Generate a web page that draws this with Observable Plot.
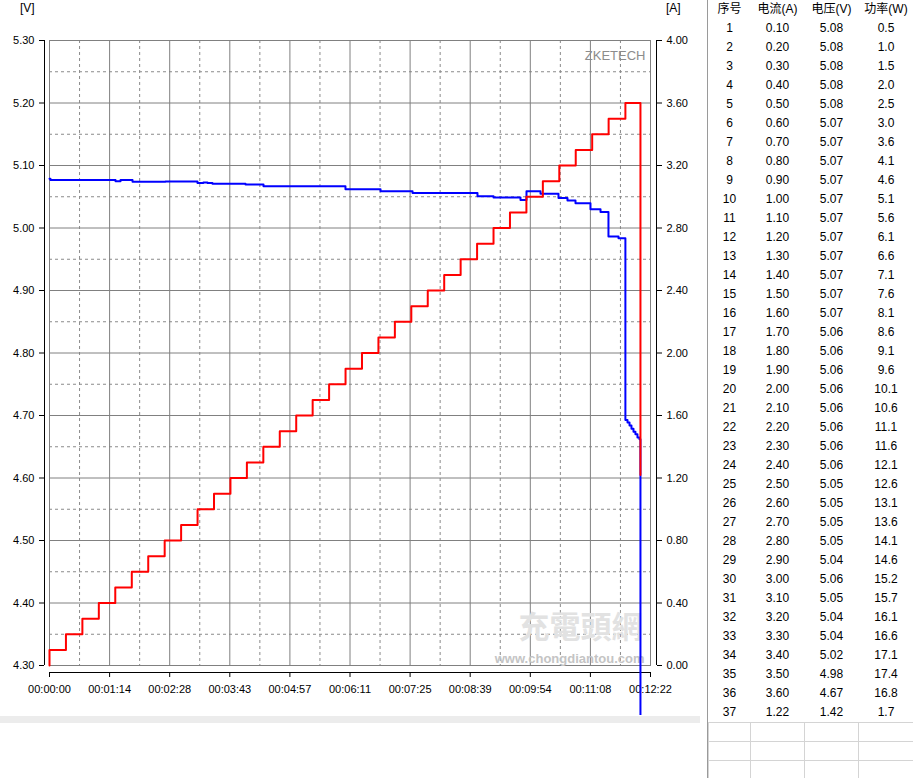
<!DOCTYPE html>
<html><head><meta charset="utf-8">
<script src="https://cdn.jsdelivr.net/npm/d3@7"></script>
<script src="https://cdn.jsdelivr.net/npm/@observablehq/plot@0.6"></script>
<style>
body{margin:0;background:#fff;font-family:"Liberation Sans",Arial,"Noto Sans CJK SC",sans-serif;}
#wrap{position:relative;width:913px;height:778px;overflow:hidden;background:#fff;}
#chart{position:absolute;left:0;top:0;}
.unit{position:absolute;font-size:12px;color:#000;line-height:14px;}
#band{position:absolute;left:0;top:716px;width:700px;height:7px;background:#ececec;}
#sep{position:absolute;left:707px;top:0;width:1px;height:778px;background:#9a9a9a;}
#tbl{position:absolute;left:708px;top:0;border-collapse:collapse;table-layout:fixed;width:205px;font-size:12px;font-family:"Liberation Sans",Arial,"Noto Sans CJK SC",sans-serif;}
#tbl td{height:19px;padding:0;text-align:center;line-height:19px;white-space:nowrap;color:#000;}
#tbl tr.empty td{border:1px solid #d4d4d4;height:18px;}
</style></head><body>
<div id="wrap">
  <div id="chart"></div>
  <div class="unit" style="left:20px;top:1px">[V]</div>
  <div class="unit" style="left:666px;top:1px">[A]</div>
  <div id="band"></div>
  <div id="sep"></div>
  <table id="tbl"></table>
</div>
<script>
// ---- table data ----
const headers = ["序号", "电流(A)", "电压(V)", "功率(W)"];
const rowIndex = [1,2,3,4,5,6,7,8,9,10,11,12,13,14,15,16,17,18,19,20,21,22,23,24,25,26,27,28,29,30,31,32,33,34,35,36,37];
const rowCurrent = ["0.10","0.20","0.30","0.40","0.50","0.60","0.70","0.80","0.90","1.00","1.10","1.20","1.30","1.40","1.50","1.60","1.70","1.80","1.90","2.00","2.10","2.20","2.30","2.40","2.50","2.60","2.70","2.80","2.90","3.00","3.10","3.20","3.30","3.40","3.50","3.60","1.22"];
const rowVoltage = ["5.08","5.08","5.08","5.08","5.08","5.07","5.07","5.07","5.07","5.07","5.07","5.07","5.07","5.07","5.07","5.07","5.06","5.06","5.06","5.06","5.06","5.06","5.06","5.06","5.05","5.05","5.05","5.05","5.04","5.06","5.05","5.04","5.04","5.02","4.98","4.67","1.42"];
const rowPower = ["0.5","1.0","1.5","2.0","2.5","3.0","3.6","4.1","4.6","5.1","5.6","6.1","6.6","7.1","7.6","8.1","8.6","9.1","9.6","10.1","10.6","11.1","11.6","12.1","12.6","13.1","13.6","14.1","14.6","15.2","15.7","16.1","16.6","17.1","17.4","16.8","1.7"];

// ---- current trace (A): step start times (s) and levels ----
const currentTimes = [0, 0, 20.3, 40.6, 60.9, 81.2, 101.6, 121.9, 142.2, 162.5, 182.8, 203.1, 223.4, 243.7, 264.0, 284.3, 304.6, 324.9, 345.2, 365.5, 385.8, 406.1, 426.4, 446.7, 467.0, 487.3, 507.6, 527.9, 548.2, 568.5, 588.8, 609.1, 629.4, 649.7, 670.0, 690.3, 711.0, 729.6];
const currentValues = [0.00, 0.10, 0.20, 0.30, 0.40, 0.50, 0.60, 0.70, 0.80, 0.90, 1.00, 1.10, 1.20, 1.30, 1.40, 1.50, 1.60, 1.70, 1.80, 1.90, 2.00, 2.10, 2.20, 2.30, 2.40, 2.50, 2.60, 2.70, 2.80, 2.90, 3.00, 3.10, 3.20, 3.30, 3.40, 3.50, 3.60, 1.22];

// ---- voltage trace (V) ----
const voltageTimes = [0, 1.2, 81.5, 87.7, 102.5, 143.2, 182.7, 190.0, 195.0, 201.2, 242.0, 264.2, 365.4, 408.7, 448.2, 528.4, 548.2, 581.5, 588.9, 606.2, 628.4, 639.5, 649.4, 667.9, 680.3, 690.1, 702.5, 711.0, 713.6, 716.1, 718.5, 721.0, 723.4, 725.9, 728.4, 729.6];
const voltageValues = [5.079, 5.077, 5.075, 5.077, 5.074, 5.0745, 5.072, 5.073, 5.072, 5.071, 5.0696, 5.067, 5.062, 5.059, 5.056, 5.051, 5.049, 5.045, 5.059, 5.055, 5.048, 5.044, 5.0395, 5.030, 5.0255, 4.9865, 4.9836, 4.693, 4.689, 4.684, 4.679, 4.674, 4.670, 4.665, 4.662, 1.42];

// ---- axes ----
const xTicks = [0, 74.2, 148.4, 222.6, 296.8, 371.0, 445.2, 519.4, 593.6, 667.8, 742];
const xTickLabels = ["00:00:00","00:01:14","00:02:28","00:03:43","00:04:57","00:06:11","00:07:25","00:08:39","00:09:54","00:11:08","00:12:22"];
const xMinor = [37.1, 111.3, 185.5, 259.7, 333.9, 408.1, 482.3, 556.5, 630.7, 704.9];
const vTicks = [4.30, 4.40, 4.50, 4.60, 4.70, 4.80, 4.90, 5.00, 5.10, 5.20, 5.30];
const vMinor = [4.35, 4.45, 4.55, 4.65, 4.75, 4.85, 4.95, 5.05, 5.15, 5.25];
const aTicks = [0.00, 0.40, 0.80, 1.20, 1.60, 2.00, 2.40, 2.80, 3.20, 3.60, 4.00];

const vMin = 4.30, vMax = 5.30, aMax = 4.00;
const aToV = a => vMin + a / aMax * (vMax - vMin);   // right axis shares the plot height

const voltage = voltageTimes.map((t, i) => ({t, v: voltageValues[i]}));
const current = currentTimes.map((t, i) => ({t, a: currentValues[i]}));
const xLabel = new Map(xTicks.map((d, i) => [d, xTickLabels[i]]));

const chart = Plot.plot({
  width: 700, height: 715,
  marginLeft: 49, marginRight: 50, marginTop: 40, marginBottom: 50,
  x: {domain: [0, 742], axis: null},
  y: {domain: [vMin, vMax], axis: null},
  style: {fontFamily: "Liberation Sans, Arial, sans-serif", fontSize: "11px", color: "#000", background: "transparent"},
  marks: [
    Plot.gridX(xMinor, {stroke: "#8a8a8a", strokeOpacity: 1, strokeDasharray: "3,3"}),
    Plot.gridY(vMinor, {stroke: "#8a8a8a", strokeOpacity: 1, strokeDasharray: "3,3"}),
    Plot.gridX(xTicks, {stroke: "#808080", strokeOpacity: 1}),
    Plot.gridY(vTicks, {stroke: "#808080", strokeOpacity: 1}),
    Plot.frame({stroke: "#808080"}),
    Plot.text(["ZKETECH"], {frameAnchor: "top-right", dx: -5, dy: 15, lineAnchor: "middle", textAnchor: "end", fill: "#8c8c8c", fontSize: 13, fontFamily: "Liberation Sans Narrow, Liberation Sans, sans-serif"}),
    Plot.text(["充電頭網"], {frameAnchor: "bottom-right", dx: -8, dy: -37, lineAnchor: "middle", textAnchor: "end", fill: "#e2e2e2", fontSize: 31, fontWeight: "bold", fontFamily: "Noto Sans CJK TC, sans-serif"}),
    Plot.text(["www.chongdiantou.com"], {frameAnchor: "bottom-right", dx: -6, dy: -7, lineAnchor: "middle", textAnchor: "end", fill: "#c4c4c4", fontSize: 13, fontWeight: "bold"}),
    // left axis
    Plot.ruleX([0], {y1: vMin, y2: vMax, dx: -5, stroke: "#000"}),
    Plot.axisY(vTicks, {anchor: "left", label: null, tickSize: 5, tickPadding: 5, dx: -5, tickFormat: d => d.toFixed(2)}),
    // right axis (current)
    Plot.ruleX([742], {y1: vMin, y2: vMax, dx: 6, stroke: "#000"}),
    Plot.axisY(aTicks.map(aToV), {anchor: "right", label: null, tickSize: 5, tickPadding: 5, dx: 6, tickFormat: d => ((d - vMin) / (vMax - vMin) * aMax).toFixed(2)}),
    // bottom axis
    Plot.ruleY([vMin], {x1: 0, x2: 742, dy: 7, stroke: "#000"}),
    Plot.axisX(xTicks, {anchor: "bottom", label: null, tickSize: 5, tickPadding: 8, dy: 7, tickFormat: d => xLabel.get(d)}),
    // traces
    Plot.line(voltage, {x: "t", y: "v", curve: "step-after", stroke: "#0000ff", strokeWidth: 2}),
    Plot.line(current, {x: "t", y: d => aToV(d.a), curve: "step-after", stroke: "#ff0000", strokeWidth: 2})
  ]
});
document.getElementById("chart").appendChild(chart);

// table
let html = "<colgroup><col style='width:42px'><col style='width:54px'><col style='width:54px'><col style='width:55px'></colgroup>";
html += "<tr>" + headers.map(h => `<td>${h}</td>`).join("") + "</tr>";
rowIndex.forEach((n, i) => {
  html += `<tr><td>${n}</td><td>${rowCurrent[i]}</td><td>${rowVoltage[i]}</td><td>${rowPower[i]}</td></tr>`;
});
for (let k = 0; k < 3; k++) html += "<tr class='empty'><td></td><td></td><td></td><td></td></tr>";
document.getElementById("tbl").innerHTML = html;
</script>
</body></html>
